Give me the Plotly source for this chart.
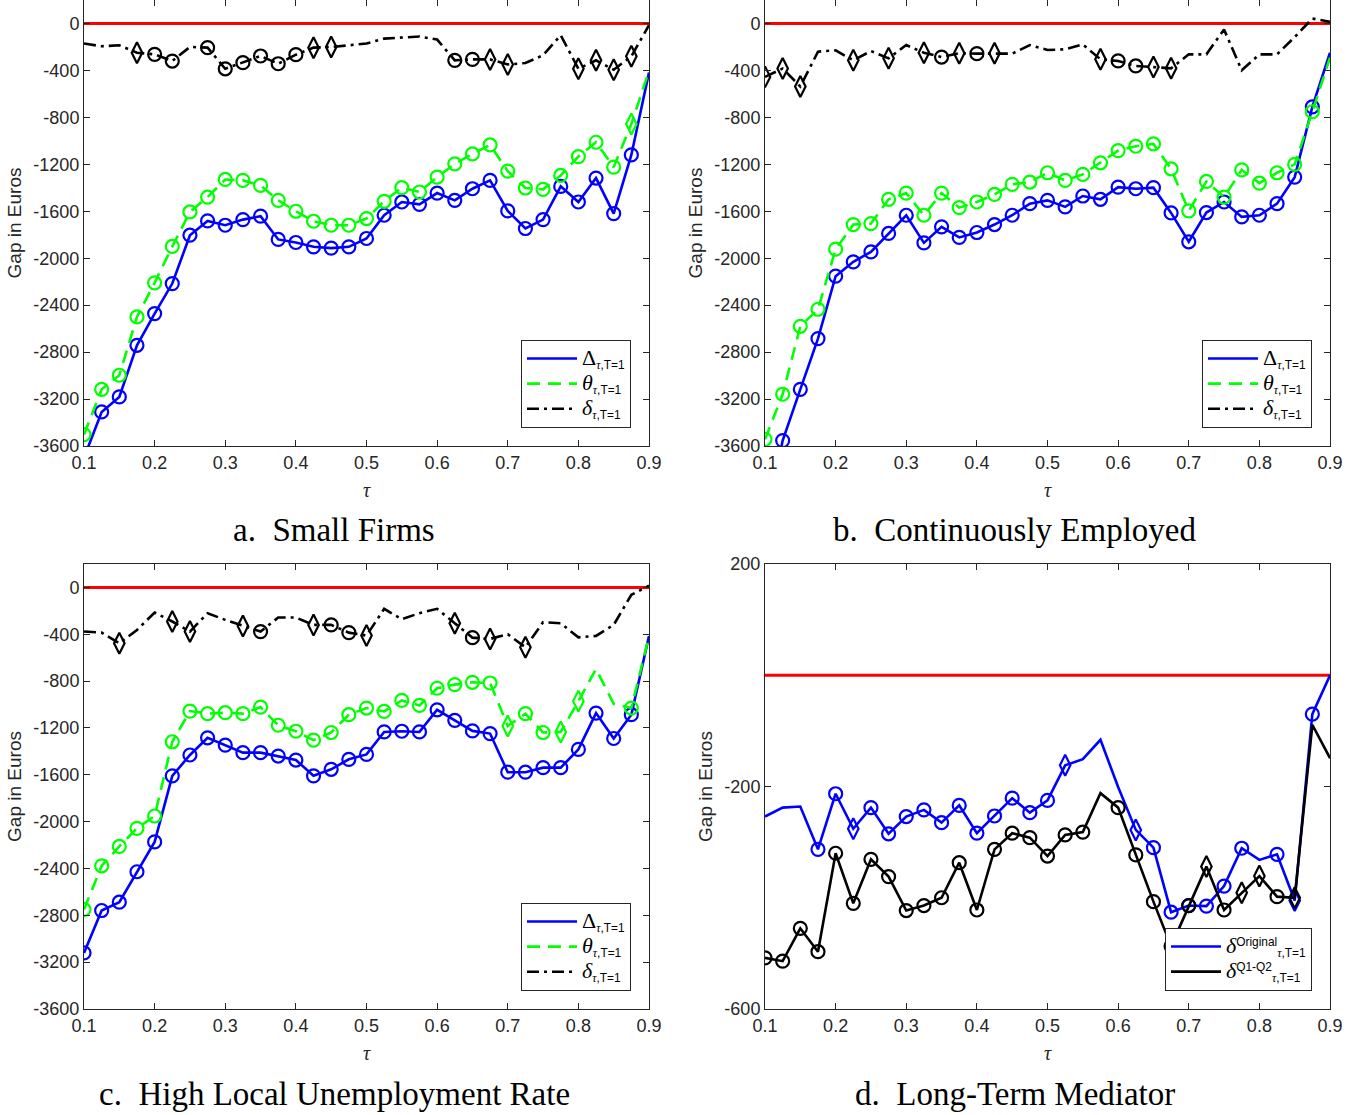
import plotly.graph_objects as go

# ---------------- data ----------------
tau = [0.1, 0.125, 0.15, 0.175, 0.2, 0.225, 0.25, 0.275, 0.3, 0.325, 0.35,
       0.375, 0.4, 0.425, 0.45, 0.475, 0.5, 0.525, 0.55, 0.575, 0.6, 0.625,
       0.65, 0.675, 0.7, 0.725, 0.75, 0.775, 0.8, 0.825, 0.85, 0.875, 0.9]
zero_ref = 0

# markers: o = circle, d = diamond, . = none
# a. Small Firms
a_Delta = [-3700, -3310, -3182, -2742, -2472, -2216, -1804, -1682, -1719, -1671, -1642,
           -1840, -1866, -1903, -1914, -1903, -1832, -1634, -1521, -1541, -1445, -1507,
           -1408, -1337, -1597, -1747, -1671, -1388, -1521, -1317, -1620, -1120, -418]
a_Delta_sig = "oooooooooooooooooooooooooooooooo."
a_theta = [-3503, -3117, -2997, -2500, -2210, -1900, -1606, -1479, -1329, -1337, -1380,
           -1507, -1600, -1685, -1719, -1719, -1662, -1515, -1399, -1436, -1309, -1196,
           -1111, -1035, -1258, -1402, -1413, -1295, -1134, -1012, -1224, -857, -404]
a_theta_sig = "oooooooooooooooooooooooooooooood."
a_delta = [-171, -194, -186, -249, -263, -320, -200, -206, -386, -334, -277,
           -343, -266, -206, -200, -186, -171, -129, -123, -111, -137, -314,
           -306, -306, -349, -337, -271, -100, -386, -314, -394, -280, -15]
a_delta_sig = "...doo.oooooodd......oodd...dddd."

# b. Continuously Employed
b_Delta = [-4300, -3554, -3117, -2685, -2153, -2031, -1946, -1789, -1634, -1869, -1733,
           -1823, -1781, -1713, -1634, -1535, -1507, -1563, -1470, -1498, -1394, -1408,
           -1399, -1614, -1860, -1611, -1521, -1648, -1634, -1535, -1309, -710, -249]
b_Delta_sig = "oooooooooooooooooooooooooooooooo."
b_theta = [-3543, -3159, -2580, -2435, -1923, -1713, -1705, -1498, -1445, -1634, -1445,
           -1569, -1521, -1456, -1371, -1351, -1272, -1337, -1286, -1187, -1083, -1046,
           -1026, -1238, -1597, -1346, -1479, -1247, -1360, -1272, -1201, -752, -291]
b_theta_sig = "oooooooooooooooooooooooooooooooo."
b_delta = [-455, -384, -537, -240, -229, -314, -235, -297, -184, -249, -286,
           -254, -257, -254, -257, -184, -226, -220, -178, -305, -319, -362,
           -370, -382, -263, -263, -51, -399, -263, -263, -116, 42, 14]
b_delta_sig = "ddd..d.d.dodod.....doodd........."

# c. High Local Unemployment Rate
c_Delta = [-3121, -2759, -2688, -2428, -2173, -1609, -1431, -1284, -1347, -1411, -1411,
           -1440, -1474, -1609, -1553, -1468, -1426, -1234, -1228, -1234, -1045, -1135,
           -1225, -1248, -1578, -1578, -1539, -1539, -1383, -1073, -1290, -1087, -415]
c_Delta_sig = "oooooooooooooooooooooooooooooooo."
c_theta = [-2750, -2377, -2212, -2057, -1952, -1318, -1056, -1078, -1070, -1078, -1022,
           -1177, -1228, -1304, -1239, -1087, -1030, -1059, -965, -1008, -861, -830,
           -810, -816, -1183, -1078, -1239, -1234, -971, -697, -994, -1030, -415]
c_theta_sig = "oooooooooooooooooooooooodoodd..o."
c_delta = [-377, -386, -477, -363, -214, -291, -377, -220, -277, -329, -377,
           -257, -257, -320, -320, -386, -411, -183, -271, -220, -183, -306,
           -429, -440, -400, -511, -297, -306, -426, -414, -320, -63, 14]
c_delta_sig = "..d..dd..do..dood....dod.d......."

# d. Long-Term Mediator
d_orig = [-254, -238, -236, -313, -213, -276, -238, -285, -254, -242, -265,
          -234, -284, -253, -221, -247, -225, -162, -151, -116, -201, -278,
          -310, -426, -414, -415, -379, -311, -332, -322, -405, -70, 0]
d_orig_sig = "...oodoooooooooood...doooooo.odo.."
d_q12 = [-508, -514, -455, -497, -320, -410, -331, -362, -423, -414, -400,
         -337, -422, -313, -284, -292, -325, -287, -282, -212, -238, -323,
         -407, -487, -414, -344, -422, -391, -361, -398, -400, -89, -149]
d_q12_sig = "ooooooooooooooooooo.ooooododdod.."

x_ticks = [0.1, 0.2, 0.3, 0.4, 0.5, 0.6, 0.7, 0.8, 0.9]
x_ticklabels = ["0.1", "0.2", "0.3", "0.4", "0.5", "0.6", "0.7", "0.8", "0.9"]
y_ticks_big = [0, -400, -800, -1200, -1600, -2000, -2400, -2800, -3200, -3600]
y_ticklabels_big = ["0", "-400", "-800", "-1200", "-1600", "-2000", "-2400", "-2800", "-3200", "-3600"]
y_ticks_d = [200, -200, -600]
y_ticklabels_d = ["200", "-200", "-600"]

titles = ["a.  Small Firms", "b.  Continuously Employed",
          "c.  High Local Unemployment Rate", "d.  Long-Term Mediator"]

# ---------------- styling ----------------
W, H = 1362, 1115
BLUE, GREEN, BLACK, RED = "#0000FF", "#00FF00", "#000000", "#FF0000"
AX = "#262626"
SANS = "Liberation Sans, Arial, sans-serif"
SERIF = "Liberation Serif, Times New Roman, serif"

def label_html(sym, italic=True, sup=None):
    core = ("<i>" + sym + "</i>") if italic else sym
    s = "<span style='font-family:Liberation Serif;font-size:22px'>" + core + "</span>"
    if sup:
        s += "<sup>" + sup + "</sup>"
    s += "<sub><span style='font-family:Liberation Serif'><i>τ</i></span>,T=1</sub>"
    return s

fig = go.Figure()

DASH_G = "13px,8px"
DASH_K = "12px,5px,3px,5px"
panels = [
    dict(ax="", px=(84, 649), py=(0, 446), yr=[-3600, 200], yt=(y_ticks_big, y_ticklabels_big), leg="legend",
         series=[(a_Delta, a_Delta_sig, BLUE, "solid", ("Δ", False, None)),
                 (a_theta, a_theta_sig, GREEN, DASH_G, ("θ", True, None)),
                 (a_delta, a_delta_sig, BLACK, DASH_K, ("δ", True, None))]),
    dict(ax="2", px=(765, 1330), py=(0, 446), yr=[-3600, 200], yt=(y_ticks_big, y_ticklabels_big), leg="legend2",
         series=[(b_Delta, b_Delta_sig, BLUE, "solid", ("Δ", False, None)),
                 (b_theta, b_theta_sig, GREEN, DASH_G, ("θ", True, None)),
                 (b_delta, b_delta_sig, BLACK, DASH_K, ("δ", True, None))]),
    dict(ax="3", px=(84, 649), py=(564, 1009), yr=[-3600, 200], yt=(y_ticks_big, y_ticklabels_big), leg="legend3",
         series=[(c_Delta, c_Delta_sig, BLUE, "solid", ("Δ", False, None)),
                 (c_theta, c_theta_sig, GREEN, DASH_G, ("θ", True, None)),
                 (c_delta, c_delta_sig, BLACK, DASH_K, ("δ", True, None))]),
    dict(ax="4", px=(765, 1330), py=(564, 1009), yr=[-600, 200], yt=(y_ticks_d, y_ticklabels_d), leg="legend4",
         series=[(d_orig, d_orig_sig, BLUE, "solid", ("δ", True, "Original")),
                 (d_q12, d_q12_sig, BLACK, "solid", ("δ", True, "Q1-Q2"))]),
]

layout = dict(width=W, height=H, margin=dict(l=0, r=0, t=0, b=0, autoexpand=False),
              paper_bgcolor="white", plot_bgcolor="white", showlegend=True)
annotations = []

for i, p in enumerate(panels):
    xa, ya = "x" + p["ax"], "y" + p["ax"]
    fig.add_trace(go.Scatter(x=[tau[0], tau[-1]], y=[zero_ref, zero_ref], mode="lines",
                             line=dict(color=RED, width=3), xaxis=xa, yaxis=ya, showlegend=False,
                             hoverinfo="skip"))
    for vals, sig, col, dash, (sym, ital, sup) in p["series"]:
        fig.add_trace(go.Scatter(x=tau, y=vals, mode="lines", line=dict(color=col, width=2.6, dash=dash),
                                 name=label_html(sym, ital, sup), legend=p["leg"], xaxis=xa, yaxis=ya))
        for code, msym, size in (("o", "circle-open", 13), ("d", "diamond-tall-open", 15)):
            mx = [t for t, s in zip(tau, sig) if s == code]
            my = [v for v, s in zip(vals, sig) if s == code]
            if mx:
                fig.add_trace(go.Scatter(x=mx, y=my, mode="markers",
                                         marker=dict(symbol=msym, size=size, color=col,
                                                     line=dict(width=2.2, color=col)),
                                         showlegend=False, xaxis=xa, yaxis=ya))
    x0, x1 = p["px"]
    y0, y1 = p["py"]
    layout["xaxis" + p["ax"]] = dict(
        domain=[x0 / W, x1 / W], anchor=ya, range=[tau[0], tau[-1]], automargin=False,
        tickvals=x_ticks, ticktext=x_ticklabels, ticks="inside", ticklen=6,
        tickcolor=AX, showline=True, linecolor=AX, linewidth=1, mirror="ticks",
        showgrid=False, zeroline=False, tickfont=dict(family=SANS, size=18, color=AX),
        title=dict(text="<i>τ</i>", font=dict(family=SERIF, size=20, color=AX), standoff=11))
    layout["yaxis" + p["ax"]] = dict(
        domain=[1 - y1 / H, 1 - y0 / H], anchor=xa, range=p["yr"], automargin=False,
        tickvals=p["yt"][0], ticktext=p["yt"][1], ticks="inside", ticklen=6,
        tickcolor=AX, showline=True, linecolor=AX, linewidth=1, mirror="ticks",
        showgrid=False, zeroline=False, tickfont=dict(family=SANS, size=18, color=AX),
        title=dict(text="Gap in Euros", font=dict(family=SANS, size=19, color=AX), standoff=6))
    leg_right = x1 - 18
    leg_bottom = y1 - 18
    layout[p["leg"]] = dict(x=leg_right / W, y=1 - leg_bottom / H, xanchor="right", yanchor="bottom",
                            xref="paper", yref="paper", bgcolor="white", bordercolor=AX, borderwidth=1,
                            font=dict(family=SANS, size=17, color="#000000"), tracegroupgap=0,
                            itemwidth=50)
    cx = 334 if x0 < 600 else 1015
    cy = 530 if y0 < 300 else 1094
    annotations.append(dict(text=titles[i], x=cx / W, y=1 - cy / H, xref="paper", yref="paper",
                            xanchor="center", yanchor="middle", showarrow=False,
                            font=dict(family=SERIF, size=33, color="#000000")))

layout["annotations"] = annotations
fig.update_layout(**layout)
fig.write_html("out.html", config={"displayModeBar": False},
               post_script="document.body.style.margin='0';document.body.style.overflow='hidden';")
